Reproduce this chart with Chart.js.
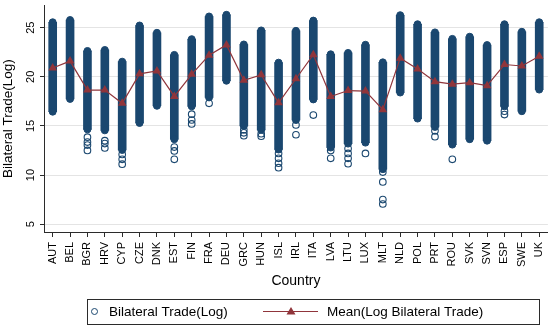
<!DOCTYPE html>
<html lang="en">
<head>
  <meta charset="UTF-8">
  <title>Bilateral trade by country</title>
  <style>
    body { margin: 0; background: #fff; }
    #wrap { width: 553px; height: 325px; }
  </style>
</head>
<body>
  <div id="wrap">
    <canvas id="myChart" width="553" height="325"></canvas>
  </div>

  <script src="https://cdn.jsdelivr.net/npm/chart.js"></script>

  <script>
    const categories = ["AUT", "BEL", "BGR", "HRV", "CYP", "CZE", "DNK", "EST", "FIN", "FRA",
      "DEU", "GRC", "HUN", "ISL", "IRL", "ITA", "LVA", "LTU", "LUX", "MLT",
      "NLD", "POL", "PRT", "ROU", "SVK", "SVN", "ESP", "SWE", "UK"];

    // top and bottom of the dense column of observations
    const bandHigh = [25.55, 25.78, 22.63, 22.73, 21.54, 25.22, 24.48, 22.23, 23.83, 26.14,
      26.31, 23.29, 24.72, 21.44, 24.68, 25.72, 22.29, 22.43, 23.26, 21.47,
      26.27, 25.35, 24.52, 23.86, 24.08, 23.23, 25.35, 24.58, 25.55];
    const bandLow = [16.45, 17.75, 14.65, 14.55, 12.55, 15.3, 17.05, 13.65, 17.0, 17.9,
      19.6, 15.0, 14.6, 12.6, 15.6, 17.7, 12.8, 13.2, 13.3, 10.6,
      18.4, 15.75, 14.9, 13.1, 13.65, 13.5, 17.0, 16.5, 18.7];

    // single observations below the column
    const outliers = [[], [], [13.85, 13.35, 13.05, 12.5], [13.5, 13.2, 12.75], [12.1, 11.6, 11.1],
      [], [], [12.85, 12.45, 11.6], [16.2, 15.6, 15.2], [17.3],
      [], [14.6, 14.3, 14.0], [14.2, 13.95], [12.2, 11.7, 11.2, 10.75], [15.1, 14.1],
      [16.1], [12.5, 11.7], [12.7, 12.2, 11.7, 11.15], [12.2], [10.3, 9.3, 7.5, 7.05],
      [], [], [14.5, 13.9], [11.6], [],
      [], [16.5, 16.15], [], []];

    const meanTrade = [20.9, 21.6, 18.65, 18.65, 17.3, 20.3, 20.6, 18.0, 20.25, 22.2,
      23.25, 19.65, 20.2, 17.35, 19.8, 22.25, 18.0, 18.6, 18.55, 16.65,
      21.9, 20.8, 19.5, 19.25, 19.4, 19.1, 21.25, 21.1, 22.1];

    const yTicks = [5, 10, 15, 20, 25];

    const navy = "#1a476f";
    const maroon = "#90353b";
    const axisColor = "#2b2b2b";
    const fontFamily = "'Liberation Sans', Arial, sans-serif";

    const endPoints = [];
    const outlierPoints = [];
    categories.forEach((c, i) => {
      endPoints.push({ x: c, y: bandLow[i] });
      endPoints.push({ x: c, y: bandHigh[i] });
      outliers[i].forEach((v) => outlierPoints.push({ x: c, y: v }));
    });

    // legend box drawn under the axis title
    const legendBox = {
      id: "legendBox",
      afterDraw(chart) {
        const ctx = chart.ctx;
        ctx.save();
        ctx.strokeStyle = axisColor;
        ctx.lineWidth = 1;
        ctx.strokeRect(87.5, 299.5, 452, 25);

        ctx.strokeStyle = navy;
        ctx.lineWidth = 1;
        ctx.beginPath();
        ctx.arc(94.5, 311.5, 3, 0, Math.PI * 2);
        ctx.stroke();

        ctx.strokeStyle = maroon;
        ctx.lineWidth = 1.2;
        ctx.beginPath();
        ctx.moveTo(263, 311.5);
        ctx.lineTo(318, 311.5);
        ctx.stroke();
        ctx.fillStyle = maroon;
        ctx.beginPath();
        ctx.moveTo(291, 307);
        ctx.lineTo(295.5, 314.5);
        ctx.lineTo(286.5, 314.5);
        ctx.closePath();
        ctx.fill();

        ctx.fillStyle = "#000";
        ctx.font = "13.5px " + fontFamily;
        ctx.textBaseline = "middle";
        ctx.textAlign = "left";
        ctx.fillText("Bilateral Trade(Log)", 109, 312);
        ctx.fillText("Mean(Log Bilateral Trade)", 327, 312);
        ctx.restore();
      }
    };

    new Chart(document.getElementById("myChart"), {
      type: "bar",
      data: {
        labels: categories,
        datasets: [
          {
            type: "line",
            label: "Mean(Log Bilateral Trade)",
            data: meanTrade,
            borderColor: maroon,
            borderWidth: 1.2,
            backgroundColor: maroon,
            pointStyle: "triangle",
            pointRadius: 5,
            pointBorderWidth: 0,
            order: 0
          },
          {
            type: "line",
            label: "ends",
            data: endPoints,
            showLine: false,
            pointRadius: 3.5,
            pointBorderWidth: 1,
            pointBorderColor: navy,
            pointBackgroundColor: navy,
            order: 1
          },
          {
            type: "line",
            label: "Bilateral Trade(Log)",
            data: outlierPoints,
            showLine: false,
            pointRadius: 3.3,
            pointBorderWidth: 1.1,
            pointBorderColor: navy,
            pointBackgroundColor: "rgba(255,255,255,0)",
            order: 1
          },
          {
            type: "bar",
            label: "band",
            data: categories.map((c, i) => [bandLow[i], bandHigh[i]]),
            backgroundColor: navy,
            barThickness: 8,
            borderSkipped: false,
            order: 2
          }
        ]
      },
      options: {
        responsive: false,
        animation: false,
        events: [],
        layout: { padding: { top: 0, right: -6, bottom: 31, left: 0 } },
        plugins: {
          legend: { display: false },
          tooltip: { enabled: false }
        },
        scales: {
          x: {
            offset: true,
            afterFit: (scale) => {
              scale.height = 62;
              scale.paddingLeft = 0;
              scale.paddingRight = 0;
            },
            grid: {
              offset: false,
              drawOnChartArea: false,
              drawTicks: true,
              tickLength: 5,
              tickColor: axisColor
            },
            border: { display: true, color: axisColor, width: 1 },
            ticks: {
              minRotation: 90,
              maxRotation: 90,
              padding: 5,
              color: "#000",
              font: { family: fontFamily, size: 11 },
              autoSkip: false
            },
            title: {
              display: true,
              text: "Country",
              color: "#000",
              font: { family: fontFamily, size: 14 },
              padding: { top: 0, bottom: 4 }
            }
          },
          y: {
            min: 4.2,
            max: 27.3,
            afterFit: (scale) => {
              scale.width = 44;
              scale.paddingTop = 0;
              scale.paddingBottom = 0;
            },
            afterBuildTicks: (scale) => {
              scale.ticks = yTicks.map((v) => ({ value: v }));
            },
            grid: {
              color: "#e4e4e4",
              lineWidth: 1,
              tickLength: 4,
              tickColor: axisColor
            },
            border: { display: true, color: axisColor, width: 1 },
            ticks: {
              minRotation: 90,
              maxRotation: 90,
              crossAlign: "center",
              padding: 3,
              color: "#000",
              font: { family: fontFamily, size: 11 }
            },
            title: {
              display: true,
              text: "Bilateral Trade(Log)",
              color: "#000",
              font: { family: fontFamily, size: 13.5 },
              padding: { top: 0, bottom: 0 }
            }
          }
        }
      },
      plugins: [legendBox]
    });
  </script>
</body>
</html>
